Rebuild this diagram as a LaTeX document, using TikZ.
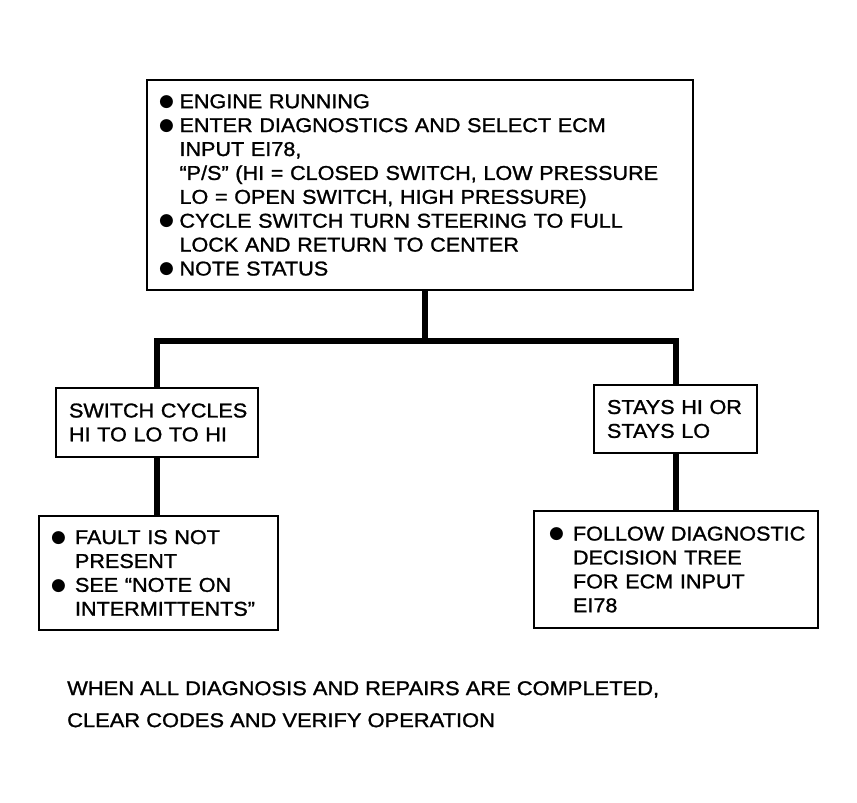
\documentclass[tikz,border=0pt]{standalone}
\usepackage{fontspec}
\setmainfont{Liberation Sans}
\newfontfamily\bodyfont[FakeStretch=1.08,FakeBold=1.2]{Liberation Sans}
\newfontfamily\notefont[FakeStretch=1.1,FakeBold=1.2]{Liberation Sans}
\newfontfamily\symfont{DejaVu Sans}
\newcommand{\bglyph}{\raisebox{1.8pt}{\symfont\fontsize{17}{17}\selectfont ●}}
\newcommand{\bla}{\makebox[19pt][l]{\hspace*{-1.5pt}\bglyph}}
\newcommand{\inda}{\hspace*{19pt}}
\newcommand{\blb}{\makebox[24pt][l]{\bglyph}}
\newcommand{\indb}{\hspace*{24pt}}
\begin{document}
\begin{tikzpicture}[x=1pt,y=-1pt,
  box/.style={draw, line width=2pt, anchor=north west, inner ysep=0pt,
    align=left, font=\bodyfont\fontsize{20}{23.9}\selectfont},
  conn/.style={line width=6pt},
  note/.style={anchor=north west, inner sep=0pt, align=left,
    font=\notefont\fontsize{19.9}{32}\selectfont}]
\fill[white] (0,0) rectangle (857,803);
\useasboundingbox (0,0) rectangle (857,803);

\node[box, minimum width=546.5pt, minimum height=210pt, inner xsep=14pt, text width=518.5pt] (top) at (145.5,79)
 {\mbox{\bla ENGINE RUNNING}\\
  \mbox{\bla ENTER DIAGNOSTICS AND SELECT ECM}\\
  \mbox{\inda INPUT EI78,}\\
  \mbox{\inda “P/S” (HI = CLOSED SWITCH, LOW PRESSURE}\\
  \mbox{\inda LO = OPEN SWITCH, HIGH PRESSURE)}\\
  \mbox{\bla CYCLE SWITCH TURN STEERING TO FULL}\\
  \mbox{\inda LOCK AND RETURN TO CENTER}\\
  \mbox{\bla NOTE STATUS}};

\node[box, minimum width=202pt, minimum height=69pt, inner xsep=13pt, text width=176pt] (sw) at (55,387)
 {\mbox{SWITCH CYCLES}\\\mbox{HI TO LO TO HI}};

\node[box, minimum width=163pt, minimum height=68pt, inner xsep=13pt, text width=137pt] (st) at (593,384)
 {\mbox{STAYS HI OR}\\\mbox{STAYS LO}};

\node[box, minimum width=239pt, minimum height=114pt, inner xsep=12pt, text width=215pt] (flt) at (38,515)
 {\mbox{\blb FAULT IS NOT}\\
  \mbox{\indb PRESENT}\\
  \mbox{\blb SEE “NOTE ON}\\
  \mbox{\indb INTERMITTENTS”}};

\node[box, minimum width=284pt, minimum height=117pt, inner xsep=15pt, text width=254pt] (fol) at (533,510)
 {\mbox{\blb FOLLOW DIAGNOSTIC}\\
  \mbox{\indb DECISION TREE}\\
  \mbox{\indb FOR ECM INPUT}\\
  \mbox{\indb EI78}};

\coordinate (j) at (425,341);
\draw[conn] (top.south -| j) -- (j);
\draw[conn] (sw.north) |- (j) -| (st.north);
\draw[conn] (sw.south) -- (sw.south |- flt.north);
\draw[conn] (st.south) -- (st.south |- fol.north);

\node[note] (final) at (67,681)
 {WHEN ALL DIAGNOSIS AND REPAIRS ARE COMPLETED,\\
  CLEAR CODES AND VERIFY OPERATION};
\end{tikzpicture}
\end{document}
